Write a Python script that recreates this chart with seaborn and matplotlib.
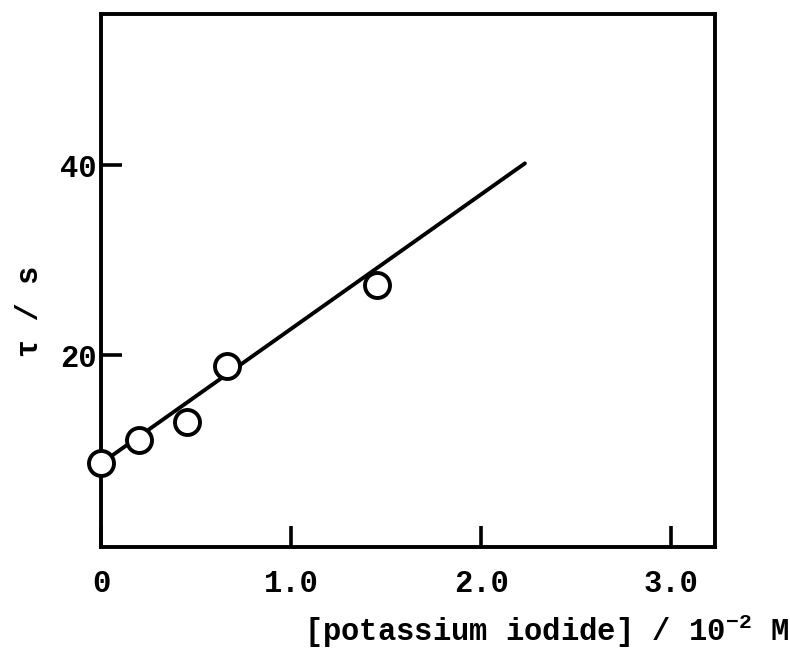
import matplotlib
matplotlib.use('Agg')
import matplotlib.pyplot as plt
import seaborn as sns
import pandas as pd

ki_conc = [0.0, 0.2, 0.45, 0.66, 1.45]      # [KI] / 10^-2 M
tau = [8.6, 11.1, 13.0, 18.8, 27.4]         # tau / s

# fitted straight line (end points as drawn)
fit_x = [0.0, 2.23]
fit_y = [8.6, 40.2]

x_ticks = [0, 1, 2, 3]
x_labels = ['0', '1.0', '2.0', '3.0']
y_ticks = [20, 40]
y_labels = ['20', '40']

sns.set_style('white')
plt.rcParams['font.family'] = ['Liberation Mono', 'DejaVu Sans Mono']
plt.rcParams['font.weight'] = 'bold'
plt.rcParams['axes.labelweight'] = 'bold'
plt.rcParams['mathtext.fontset'] = 'custom'
plt.rcParams['mathtext.rm'] = 'Liberation Mono:bold'

pts = pd.DataFrame({'conc': ki_conc, 'tau': tau})
fit = pd.DataFrame({'conc': fit_x, 'tau': fit_y})

fig = plt.figure(figsize=(7.9, 6.51), dpi=100)
ax = fig.add_axes([0.128, 0.160, 0.777, 0.818])

sns.lineplot(data=fit, x='conc', y='tau', color='black', linewidth=2.8, ax=ax, zorder=2)
ax.plot(pts['conc'], pts['tau'], linestyle='none', marker='o', markersize=18,
        markerfacecolor='white', markeredgecolor='black', markeredgewidth=2.8,
        zorder=3, clip_on=False)

ax.set_xlim(0, 3.23)
ax.set_ylim(-0.2, 55.9)

ax.set_xticks(x_ticks)
ax.set_xticklabels(x_labels)
ax.set_yticks(y_ticks)
ax.set_yticklabels(y_labels)
ax.tick_params(axis='both', direction='in', length=15, width=2.6, labelsize=22,
               colors='black', bottom=True, left=True, top=False, right=False)
ax.tick_params(axis='x', pad=16)
ax.tick_params(axis='y', pad=3)

for s in ax.spines.values():
    s.set_visible(True)
    s.set_linewidth(2.8)
    s.set_color('black')

ax.set_xlabel(r'[potassium iodide] / 10$^{\mathregular{-2}}$ M', fontsize=22,
              fontweight='bold', color='black', ha='right', va='center')
ax.xaxis.set_label_coords(1.12, -0.158)
ax.set_ylabel(r'τ / s', fontsize=22, fontweight='bold', color='black', va='center')
ax.yaxis.set_label_coords(-0.116, 0.443)

fig.savefig('out.png', dpi=100)
